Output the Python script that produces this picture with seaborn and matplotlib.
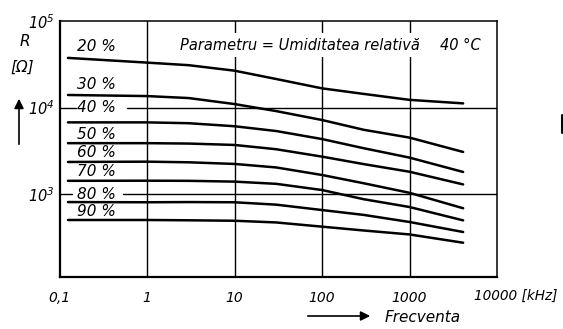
import pandas as pd
import matplotlib
matplotlib.use("Agg")
import matplotlib.pyplot as plt
from matplotlib.lines import Line2D
import seaborn as sns

sns.set_style("white")
plt.rcParams['font.family'] = ['DejaVu Sans']
plt.rcParams['font.style'] = 'italic'
plt.rcParams['text.color'] = 'black'
plt.rcParams['xtick.color'] = 'black'
plt.rcParams['ytick.color'] = 'black'
plt.rcParams['mathtext.fontset'] = 'custom'
plt.rcParams['mathtext.rm'] = 'DejaVu Sans:italic'
plt.rcParams['mathtext.it'] = 'DejaVu Sans:italic'

# frecventa [kHz] - puncte
frecventa = [0.125, 1, 3, 10, 30, 100, 300, 1000, 4100]

# rezistenta [ohm] pentru fiecare umiditate relativa
r_20 = [37500, 33100, 30900, 26700, 21400, 16700, 14400, 12300, 11200]
r_30 = [14000, 13600, 12900, 11000, 9120, 7200, 5550, 4510, 3080]
r_40 = [6760, 6760, 6610, 6100, 5370, 4340, 3400, 2650, 1810]
r_50 = [3890, 3890, 3850, 3710, 3310, 2720, 2230, 1820, 1300]
r_60 = [2360, 2380, 2340, 2240, 2040, 1670, 1340, 1040, 690]
r_70 = [1430, 1435, 1430, 1400, 1320, 1120, 877, 713, 500]
r_80 = [813, 809, 813, 809, 759, 658, 578, 479, 367]
r_90 = [505, 505, 501, 495, 473, 423, 382, 344, 276]

umiditate = ["20 %", "30 %", "40 %", "50 %", "60 %", "70 %", "80 %", "90 %"]
# pozitia etichetelor (log10 R)
eticheta_y = [4.70, 4.262, 4.0, 3.685, 3.477, 3.258, 2.992, 2.796]

x_ticks = [0.1, 1, 10, 100, 1000, 10000]
x_labels = ["0,1", "1", "10", "100", "1000", ""]

curbe = [r_20, r_30, r_40, r_50, r_60, r_70, r_80, r_90]
rows = []
for um, vals in zip(umiditate, curbe):
    for f, r in zip(frecventa, vals):
        rows.append({'f': f, 'R': r, 'um': um})
df = pd.DataFrame(rows)

W, H = 563, 329
fig = plt.figure(figsize=(W / 100, H / 100), dpi=100)
ax = fig.add_axes([59.5 / W, 1 - 277 / H, 437.5 / W, 256 / H])

sns.lineplot(data=df, x='f', y='R', hue='um', palette=['black'] * 8,
             legend=False, lw=1.8, ax=ax, zorder=3)
ax.set_xscale('log')
ax.set_yscale('log')
ax.set_xlim(0.1, 10000)
ax.set_ylim(111, 1e5)

# grila
for xv in [1, 10, 100, 1000]:
    ax.axvline(xv, color='black', lw=1.0, zorder=1)
ax.axhline(1e4, xmin=0, xmax=0.038, color='black', lw=1.0, zorder=1)
ax.axhline(1e4, xmin=0.154, xmax=1, color='black', lw=1.0, zorder=1)
ax.axhline(1e3, xmin=0, xmax=0.029, color='black', lw=1.0, zorder=1)
ax.axhline(1e3, xmin=0.145, xmax=1, color='black', lw=1.0, zorder=1)

for sp in ['left', 'bottom']:
    ax.spines[sp].set_linewidth(1.6)
for sp in ['top', 'right']:
    ax.spines[sp].set_linewidth(1.1)
for sp in ax.spines.values():
    sp.set_color('black')

ax.set_xticks(x_ticks)
ax.set_xticklabels(x_labels)
ax.set_yticks([1e3, 1e4, 1e5])
ax.set_yticklabels([r'$10^{3}$', r'$10^{4}$', r'$10^{5}$'])
ax.minorticks_off()
ax.tick_params(axis='x', length=2, width=1, pad=8, labelsize=10)
ax.tick_params(axis='y', length=3, width=1, pad=0.5, labelsize=10.5)
ax.set_xlabel('')
ax.set_ylabel('')

for um, yl in zip(umiditate, eticheta_y):
    ax.text(0.158, 10 ** yl, um, fontsize=11, style='italic',
            ha='left', va='center', zorder=4)

fig.text(180 / W, 1 - 45 / H, 'Parametru = Umiditatea relativă',
         fontsize=10.5, style='italic', ha='left', va='center', zorder=2,
         bbox=dict(facecolor='white', edgecolor='none', boxstyle='square,pad=0.3'))
fig.text(440 / W, 1 - 45 / H, '40 °C', fontsize=10.5, style='italic',
         ha='left', va='center')

fig.text(25 / W, 1 - 42 / H, 'R', fontsize=11, style='italic', ha='center', va='center')
fig.text(22 / W, 1 - 67 / H, '[Ω]', fontsize=11, style='italic', ha='center', va='center')
ax.annotate('', xy=(19 / W, 1 - 96 / H), xytext=(19 / W, 1 - 147 / H),
            xycoords='figure fraction', textcoords='figure fraction',
            arrowprops=dict(arrowstyle='-|>', color='black', lw=1.2, mutation_scale=14))

fig.text(474 / W, 1 - 296 / H, '10000 [kHz]', fontsize=9.8, style='italic',
         ha='left', va='center')
ax.annotate('', xy=(373 / W, 1 - 316 / H), xytext=(305 / W, 1 - 316 / H),
            xycoords='figure fraction', textcoords='figure fraction',
            arrowprops=dict(arrowstyle='-|>', color='black', lw=1.2, mutation_scale=14))
fig.text(385 / W, 1 - 317 / H, 'Frecventa', fontsize=11, style='italic',
         ha='left', va='center')

fig.add_artist(Line2D([561.5 / W, 561.5 / W], [1 - 115 / H, 1 - 132 / H],
                      color='black', lw=2.2, transform=fig.transFigure))

fig.savefig('out.png', dpi=100)
